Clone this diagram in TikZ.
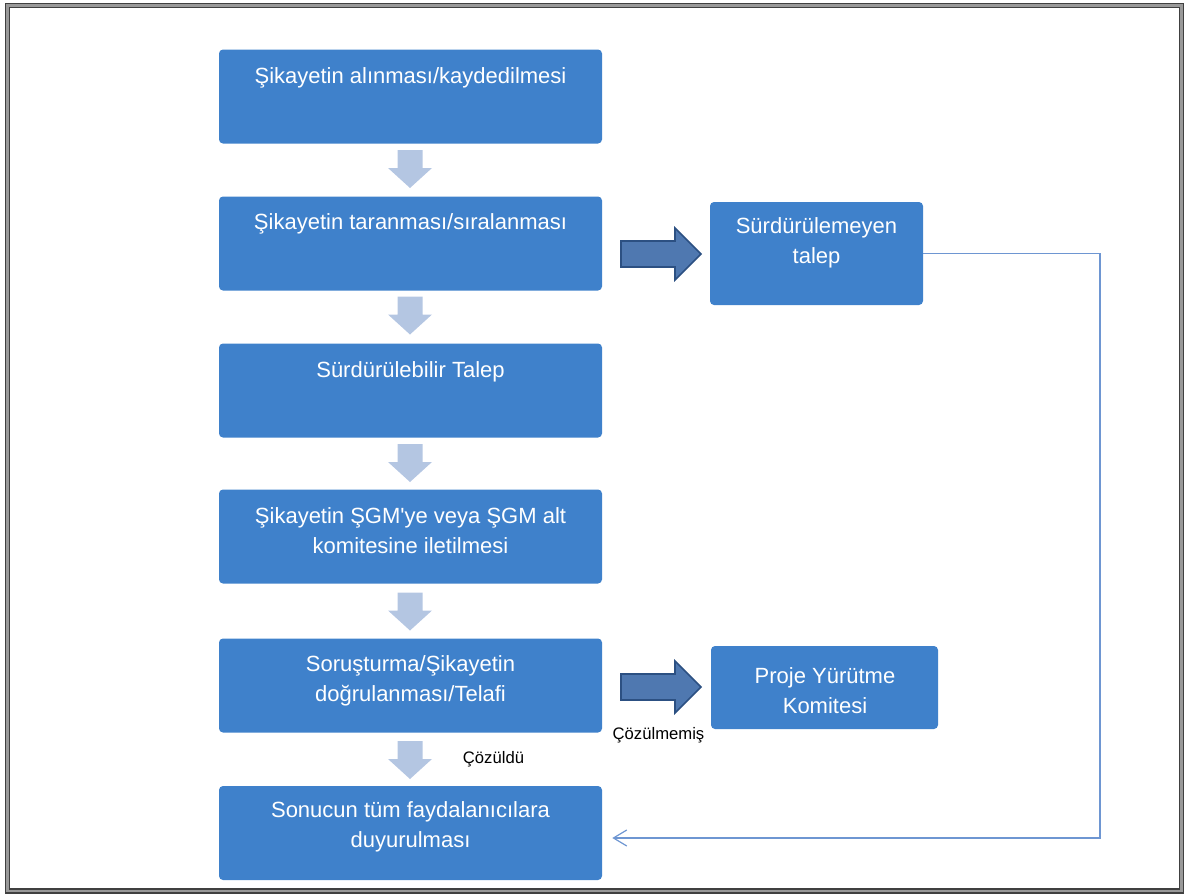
\documentclass[tikz,border=0pt]{standalone}
\usepackage{fontspec}
\setmainfont{Liberation Sans}
\usetikzlibrary{arrows.meta}
\definecolor{boxblue}{RGB}{63,129,203}
\definecolor{downblue}{RGB}{180,198,226}
\definecolor{rightblue}{RGB}{79,120,176}
\definecolor{rightedge}{RGB}{44,80,130}
\definecolor{linkblue}{RGB}{110,150,210}
\tikzset{
  stepbox/.style={fill=boxblue, rounded corners=3pt, inner sep=0pt},
  steptext/.style={text=white, align=center, inner sep=0pt, anchor=north,
    font=\fontsize{16.5pt}{22.5pt}\selectfont},
  downarrow/.style={fill=downblue},
  rightarrow/.style={fill=rightblue, draw=rightedge, line width=1.2pt, line join=miter},
  small/.style={anchor=base, inner sep=0pt, font=\fontsize{12.5pt}{15pt}\selectfont},
  link/.style={draw=linkblue, line width=0.9pt, -{Straight Barb[length=10pt,width=12pt]}}
}
\begin{document}
\begin{tikzpicture}[x=0.75pt,y=-0.75pt]
\useasboundingbox (0,0) rectangle (1186,896);
\draw[black!75, line width=1pt, double=black!40, double distance=2pt] (7.5,5.5) rectangle (1181.5,891);
% main steps
\node[stepbox, minimum width=287.25pt, minimum height=70.5pt] (1) at (410.5,96.5) {};
\node[stepbox, minimum width=287.25pt, minimum height=70.5pt] (2) at (410.5,243.5) {};
\node[stepbox, minimum width=287.25pt, minimum height=70.5pt] (3) at (410.5,390.5) {};
\node[stepbox, minimum width=287.25pt, minimum height=70.5pt] (4) at (410.5,536.5) {};
\node[stepbox, minimum width=287.25pt, minimum height=70.5pt] (5) at (410.5,685.5) {};
\node[stepbox, minimum width=287.25pt, minimum height=70.5pt] (6) at (410.5,833) {};
\node[stepbox, minimum width=159.75pt, minimum height=77.25pt] (7) at (816.5,253.5) {};
\node[stepbox, minimum width=170.25pt, minimum height=62.25pt] (8) at (824.5,687.5) {};
\node[steptext] (t1) at (410.5,67) {Şikayetin alınması/kaydedilmesi};
\node[steptext] (t2) at (410.5,213) {Şikayetin taranması/sıralanması};
\node[steptext] (t3) at (410.5,361) {Sürdürülebilir Talep};
\node[steptext] (t4) at (410.5,507) {Şikayetin ŞGM\textquotesingle ye veya ŞGM alt\\komitesine iletilmesi};
\node[steptext] (t5) at (410.5,655) {Soruşturma/Şikayetin\\doğrulanması/Telafi};
\node[steptext] (t6) at (410.5,801) {Sonucun tüm faydalanıcılara\\duyurulması};
\node[steptext] (t7) at (816.5,217) {Sürdürülemeyen\\talep};
\node[steptext] (t8) at (825,667) {Proje Yürütme\\Komitesi};
% block arrows
\foreach \y in {169,315.5,463,611.5,760}
  \fill[downarrow] (410,\y) ++(-12.5,-19) -- ++(25,0) -- ++(0,18) -- ++(9.5,0)
    -- ++(-22,20) -- ++(-22,-20) -- ++(9.5,0) -- cycle;
\foreach \y in {254,687}
  \draw[rightarrow] (661,\y) ++(-40,-13) -- ++(54,0) -- ++(0,-13) -- ++(26,26)
    -- ++(-26,26) -- ++(0,-13) -- ++(-54,0) -- cycle;
\node[small] (l1) at (493.5,763) {Çözüldü};
\node[small] (l2) at (658.5,739) {Çözülmemiş};
% return line
\coordinate (c) at (1100,838);
\path[link, shorten >=7.5pt] (7.east) -| (c) -- (6.east |- c);
\end{tikzpicture}
\end{document}
